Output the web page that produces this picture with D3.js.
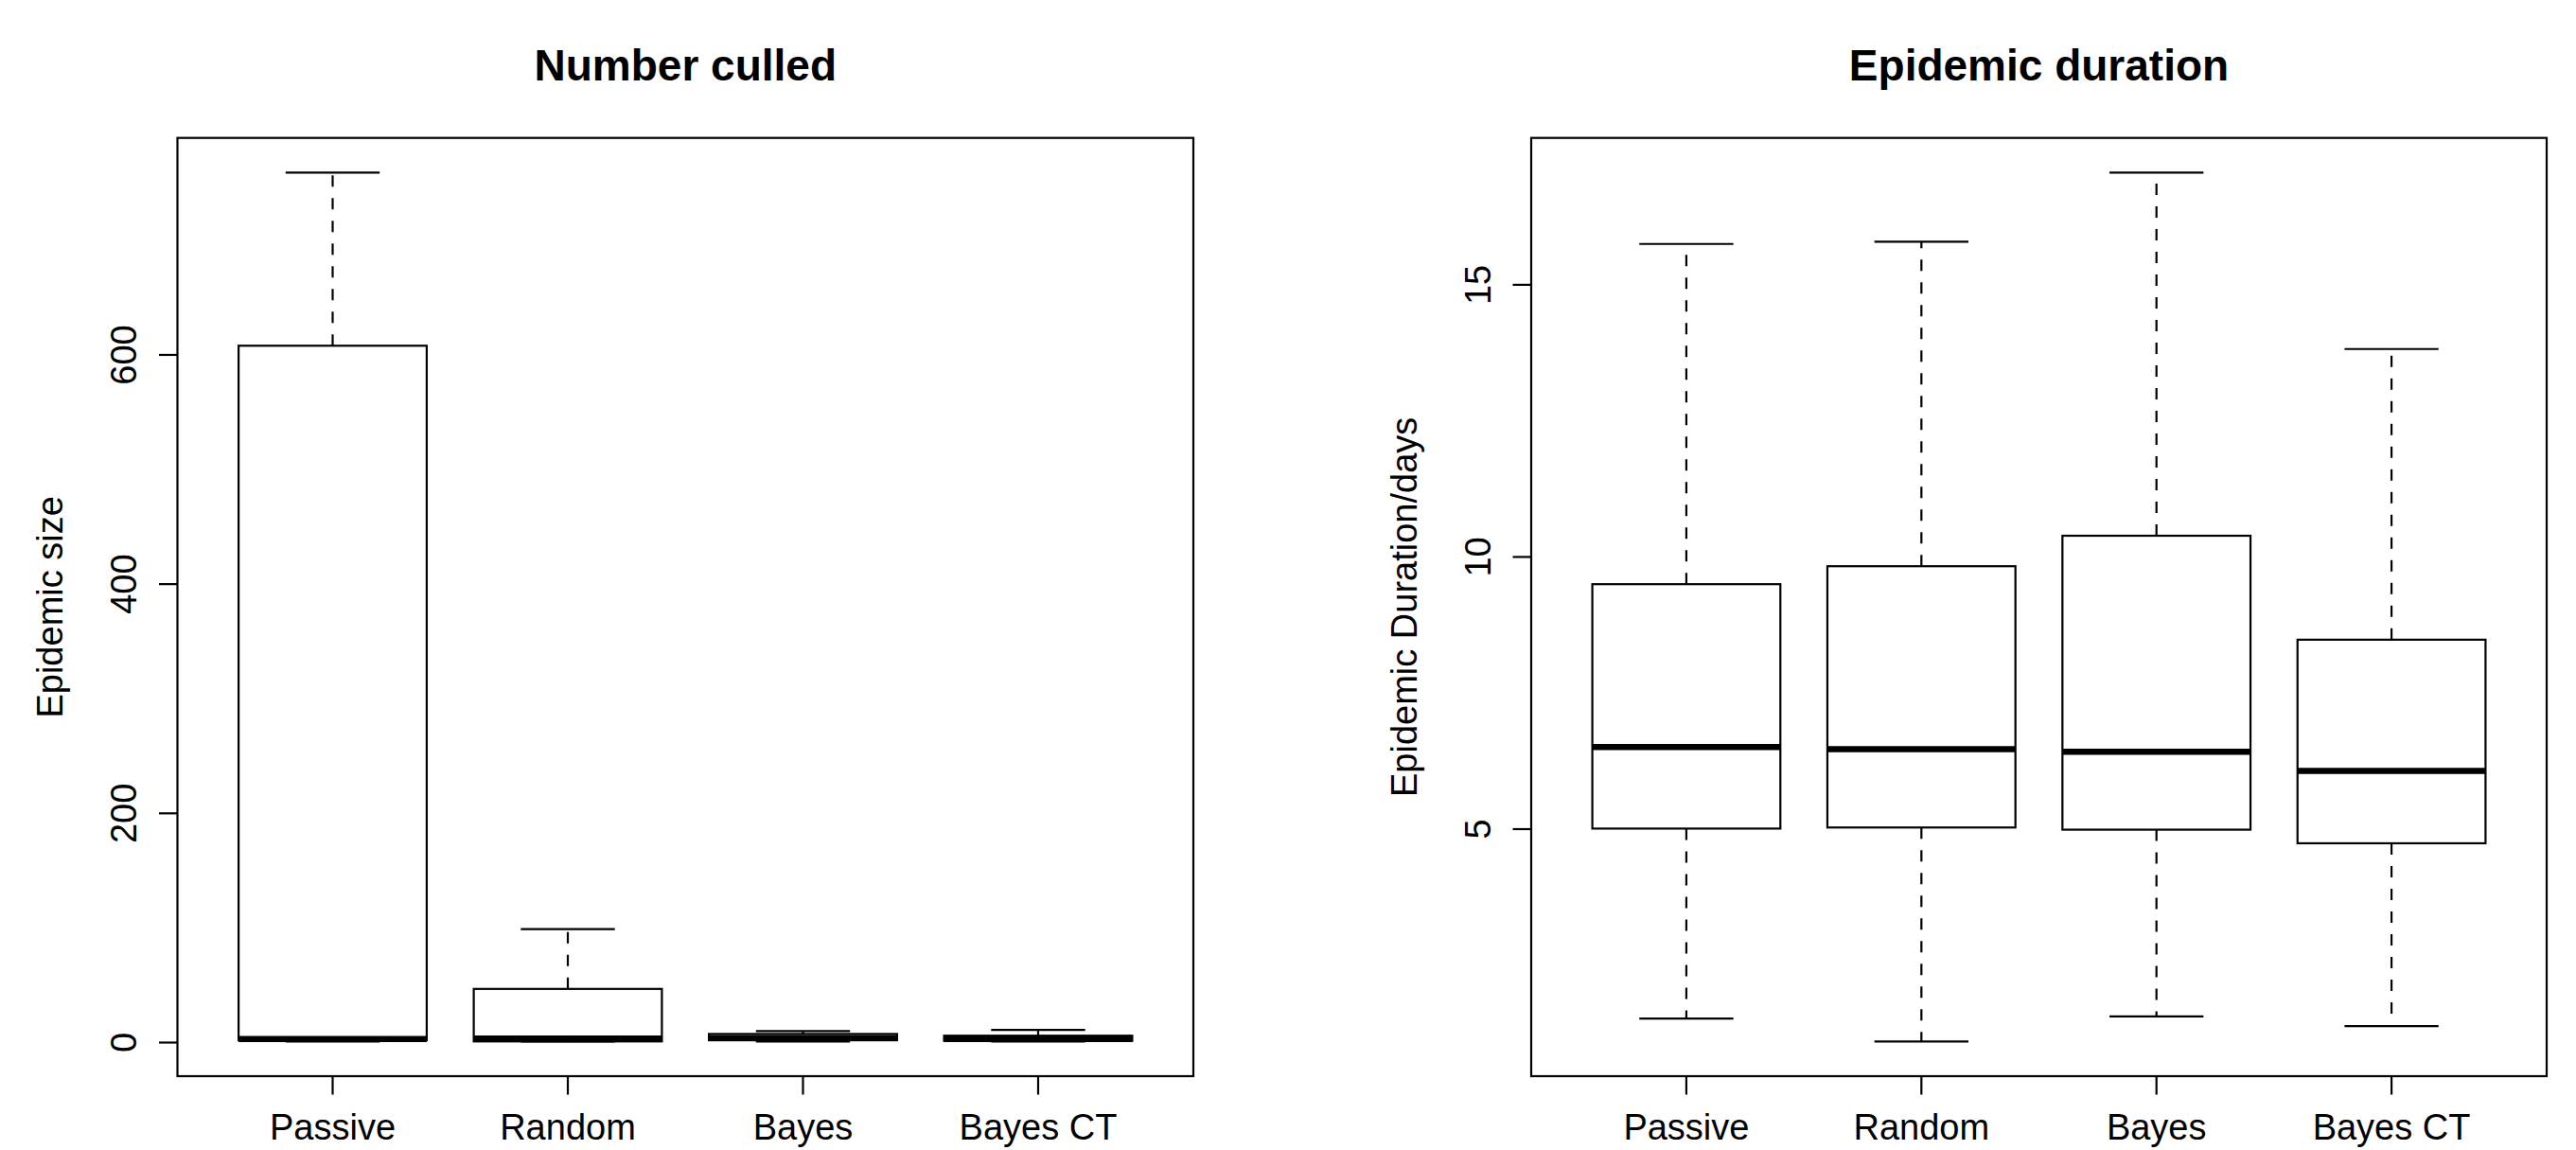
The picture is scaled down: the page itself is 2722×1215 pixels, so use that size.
<!DOCTYPE html>
<html>
<head>
<meta charset="utf-8">
<script src="https://cdn.jsdelivr.net/npm/d3@7"></script>
<style>
  body { margin: 0; background: #fff; }
  text { font-family: "Liberation Sans", Arial, Helvetica, sans-serif; fill: #000; }
</style>
</head>
<body>
<script>
const groups = ["Passive", "Random", "Bayes", "Bayes CT"];

// Number culled (five-number summaries)
const culledMin = [1, 1, 1, 1];
const culledQ1 = [2, 1, 2, 1.5];
const culledMedian = [3, 3.5, 4, 3];
const culledQ3 = [608, 46.8, 7.5, 6];
const culledMax = [759, 99, 10, 11];
const culledTicks = [0, 200, 400, 600];

// Epidemic duration
const durMin = [1.52, 1.10, 1.56, 1.38];
const durQ1 = [5.01, 5.03, 4.99, 4.74];
const durMedian = [6.51, 6.47, 6.42, 6.07];
const durQ3 = [9.50, 9.83, 10.39, 8.48];
const durMax = [15.75, 15.79, 17.06, 13.82];
const durTicks = [5, 10, 15];

const width = 2722, height = 1215;
const lw = 2.2;
const tickLen = 19.5;
const fontSize = 38;

const svg = d3.select("body").append("svg")
    .attr("width", width)
    .attr("height", height);

const panels = [
    {
        title: "Number culled", ylab: "Epidemic size",
        left: 187.5, right: 1261, top: 145.7, bottom: 1137,
        min: culledMin, q1: culledQ1, med: culledMedian, q3: culledQ3, max: culledMax,
        ticks: culledTicks
    },
    {
        title: "Epidemic duration", ylab: "Epidemic Duration/days",
        left: 1618, right: 2691, top: 145.7, bottom: 1137,
        min: durMin, q1: durQ1, med: durMedian, q3: durQ3, max: durMax,
        ticks: durTicks
    }
];

panels.forEach(p => {
    const g = svg.append("g");
    const n = groups.length;

    // R style axis extension: 4% on each side
    const x = d3.scaleLinear()
        .domain([0.5 - 0.04 * n, n + 0.5 + 0.04 * n])
        .range([p.left, p.right]);
    const lo = d3.min(p.min), hi = d3.max(p.max);
    const d = hi - lo;
    const y = d3.scaleLinear()
        .domain([lo - 0.04 * d, hi + 0.04 * d])
        .range([p.bottom, p.top]);

    const rows = groups.map((name, i) => ({
        name, i: i + 1,
        min: p.min[i], q1: p.q1[i], med: p.med[i], q3: p.q3[i], max: p.max[i]
    }));

    const box = g.selectAll(".box")
        .data(rows)
        .enter()
        .append("g")
        .attr("class", "box");

    // whiskers
    box.append("line")
        .attr("x1", r => x(r.i)).attr("x2", r => x(r.i))
        .attr("y1", r => y(r.q3)).attr("y2", r => y(r.max))
        .attr("stroke", "#000").attr("stroke-width", lw)
        .attr("stroke-dasharray", "12,12");
    box.append("line")
        .attr("x1", r => x(r.i)).attr("x2", r => x(r.i))
        .attr("y1", r => y(r.q1)).attr("y2", r => y(r.min))
        .attr("stroke", "#000").attr("stroke-width", lw)
        .attr("stroke-dasharray", "12,12");

    // staples
    ["min", "max"].forEach(k => {
        box.append("line")
            .attr("x1", r => x(r.i - 0.2)).attr("x2", r => x(r.i + 0.2))
            .attr("y1", r => y(r[k])).attr("y2", r => y(r[k]))
            .attr("stroke", "#000").attr("stroke-width", lw);
    });

    // boxes
    box.append("rect")
        .attr("x", r => x(r.i - 0.4))
        .attr("width", r => x(r.i + 0.4) - x(r.i - 0.4))
        .attr("y", r => y(r.q3))
        .attr("height", r => y(r.q1) - y(r.q3))
        .attr("fill", "none")
        .attr("stroke", "#000").attr("stroke-width", lw);

    // medians
    box.append("line")
        .attr("x1", r => x(r.i - 0.4)).attr("x2", r => x(r.i + 0.4))
        .attr("y1", r => y(r.med)).attr("y2", r => y(r.med))
        .attr("stroke", "#000").attr("stroke-width", 6.5);

    // frame
    g.append("rect")
        .attr("x", p.left).attr("y", p.top)
        .attr("width", p.right - p.left).attr("height", p.bottom - p.top)
        .attr("fill", "none").attr("stroke", "#000").attr("stroke-width", lw);

    // x axis
    g.selectAll(".xtick")
        .data(rows)
        .enter()
        .append("line")
        .attr("x1", r => x(r.i)).attr("x2", r => x(r.i))
        .attr("y1", p.bottom).attr("y2", p.bottom + tickLen)
        .attr("stroke", "#000").attr("stroke-width", lw);
    g.selectAll(".xlab")
        .data(rows)
        .enter()
        .append("text")
        .attr("x", r => x(r.i))
        .attr("y", 1204)
        .attr("text-anchor", "middle")
        .attr("font-size", fontSize)
        .text(r => r.name);

    // y axis
    g.selectAll(".ytick")
        .data(p.ticks)
        .enter()
        .append("line")
        .attr("x1", p.left - tickLen).attr("x2", p.left)
        .attr("y1", t => y(t)).attr("y2", t => y(t))
        .attr("stroke", "#000").attr("stroke-width", lw);
    g.selectAll(".ylab")
        .data(p.ticks)
        .enter()
        .append("text")
        .attr("transform", t => `translate(${p.left - 43.5},${y(t)}) rotate(-90)`)
        .attr("text-anchor", "middle")
        .attr("font-size", fontSize)
        .text(t => t);

    g.append("text")
        .attr("transform", `translate(${p.left - 121.5},${(p.top + p.bottom) / 2}) rotate(-90)`)
        .attr("text-anchor", "middle")
        .attr("font-size", fontSize)
        .text(p.ylab);

    g.append("text")
        .attr("x", (p.left + p.right) / 2)
        .attr("y", 85)
        .attr("text-anchor", "middle")
        .attr("font-size", 46)
        .attr("font-weight", "bold")
        .text(p.title);
});
</script>
</body>
</html>
